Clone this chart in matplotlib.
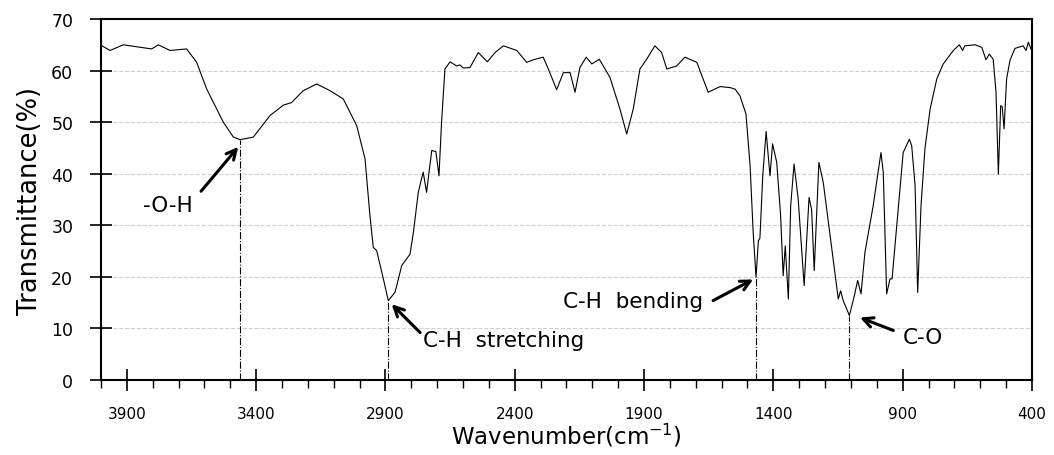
import numpy as np
import matplotlib.pyplot as plt
from matplotlib.ticker import MultipleLocator

plt.rcParams['font.family'] = ['DejaVu Sans']
plt.rcParams['mathtext.default'] = 'regular'

# IR spectrum: wavenumber (cm-1) and transmittance (%)
wavenumber = [3996, 3965, 3914, 3804, 3778, 3733, 3669, 3630, 3591, 3527,
              3488, 3462, 3411, 3346, 3295, 3263, 3218, 3166, 3114, 3063,
              3011, 2979, 2960, 2947, 2934, 2908, 2889, 2863, 2837, 2805,
              2792, 2773, 2754, 2741, 2721, 2705, 2693, 2683, 2670, 2650,
              2625, 2612, 2599, 2573, 2541, 2506, 2476, 2444, 2392, 2354,
              2328, 2290, 2270, 2238, 2212, 2186, 2167, 2148, 2124, 2102,
              2073, 2032, 1993, 1967, 1942, 1916, 1890, 1858, 1832, 1812,
              1774, 1742, 1696, 1652, 1606, 1567, 1548, 1529, 1506, 1490,
              1478, 1467, 1458, 1452, 1441, 1428, 1413, 1403, 1387, 1372,
              1362, 1354, 1342, 1333, 1320, 1304, 1281, 1262, 1252, 1242,
              1224, 1207, 1174, 1149, 1140, 1130, 1106, 1087, 1074, 1061,
              1046, 1014, 984, 975, 962, 949, 941, 923, 898, 874,
              865, 852, 842, 829, 814, 794, 768, 743, 704, 681,
              668, 660, 620, 594, 578, 565, 550, 539, 530, 521,
              515, 508, 498, 485, 466, 434, 423, 414, 404]
transmittance = [64.8, 63.9, 65.0, 64.2, 65.0, 63.9, 64.2, 61.6, 56.4, 50.0,
                 47.1, 46.6, 47.1, 51.3, 53.3, 53.8, 56.1, 57.4, 56.1, 54.5,
                 49.3, 42.9, 31.9, 25.7, 25.1, 19.6, 15.4, 17.0, 22.2, 24.4,
                 28.6, 36.4, 40.3, 36.4, 44.5, 44.3, 39.6, 50.0, 60.3, 61.7,
                 60.9, 61.1, 60.5, 60.6, 63.5, 61.7, 63.5, 64.8, 63.9, 61.6,
                 62.1, 62.6, 60.3, 56.3, 59.6, 59.6, 55.8, 60.6, 62.6, 61.3,
                 62.2, 58.7, 52.5, 47.7, 52.5, 60.3, 62.2, 64.8, 63.5, 60.3,
                 60.9, 62.6, 61.6, 55.8, 56.9, 56.7, 56.4, 55.1, 51.6, 41.6,
                 28.6, 19.9, 27.0, 27.5, 39.6, 48.2, 39.6, 45.8, 42.2, 31.9,
                 20.2, 26.0, 15.7, 33.8, 41.9, 35.1, 18.3, 35.4, 33.0, 21.2,
                 42.2, 38.3, 25.4, 15.7, 17.3, 15.4, 12.5, 16.3, 19.3, 16.7,
                 24.7, 33.8, 44.1, 40.3, 16.7, 19.6, 19.6, 29.9, 44.1, 46.7,
                 45.4, 37.7, 17.0, 33.8, 44.8, 52.5, 58.4, 61.3, 63.9, 65.0,
                 63.9, 64.8, 65.0, 64.5, 62.1, 63.2, 62.2, 55.8, 39.9, 53.2,
                 53.0, 48.7, 58.4, 62.0, 64.3, 64.8, 63.9, 65.5, 64.2]

# assigned absorption bands
peak_wn = [3462, 2889, 1467, 1106]
x_ticks = [3900, 3400, 2900, 2400, 1900, 1400, 900, 400]

fig, ax = plt.subplots(figsize=(10.54, 4.56), dpi=100)
fig.subplots_adjust(left=0.0958, right=0.9791, bottom=0.1645, top=0.9561)

ax.plot(wavenumber, transmittance, color='black', lw=0.8)

wn_asc = wavenumber[::-1]
t_asc = transmittance[::-1]
for p in peak_wn:
    ax.vlines(p, 0, np.interp(p, wn_asc, t_asc), colors='black',
              linestyles='-.', lw=0.8)

arrow = dict(arrowstyle='->, head_length=0.7, head_width=0.35', lw=2.2,
             color='black', shrinkA=0, shrinkB=0)
ax.annotate('', xy=(3469, 45.2), xytext=(3613, 36.6), arrowprops=arrow)
ax.text(3838, 34, '-O-H', fontsize=15.5, va='center')
ax.annotate('', xy=(2876, 14.7), xytext=(2766, 9.2), arrowprops=arrow)
ax.text(2755, 7.8, 'C-H  stretching', fontsize=15.5, va='center')
ax.annotate('', xy=(1478, 19.5), xytext=(1633, 15.4), arrowprops=arrow)
ax.text(2213, 15.4, 'C-H  bending', fontsize=15.5, va='center')
ax.annotate('', xy=(1065, 12.1), xytext=(936, 9.6), arrowprops=arrow)
ax.text(899, 8.3, 'C-O', fontsize=15.5, va='center')

ax.set_xlim(4000, 400)
ax.set_ylim(0, 70)
ax.set_xticks(x_ticks)
ax.xaxis.set_minor_locator(MultipleLocator(100))
ax.yaxis.set_major_locator(MultipleLocator(10))

ax.yaxis.grid(True, linestyle='--', color='#d0d0d0', lw=0.8)
ax.set_axisbelow(True)

for s in ax.spines.values():
    s.set_linewidth(1.5)

ax.tick_params(axis='x', which='major', direction='inout', length=16,
               width=1.2, pad=11, labelsize=11)
ax.tick_params(axis='x', which='minor', direction='out', length=6, width=1.0)
ax.tick_params(axis='y', which='major', direction='inout', length=16,
               width=1.2, pad=12, labelsize=12.5)

ax.set_xlabel('Wavenumber(cm$^{-1}$)', fontsize=16.5, labelpad=0)
ax.set_ylabel('Transmittance(%)', fontsize=18.5, labelpad=6)

plt.savefig('out.png')
